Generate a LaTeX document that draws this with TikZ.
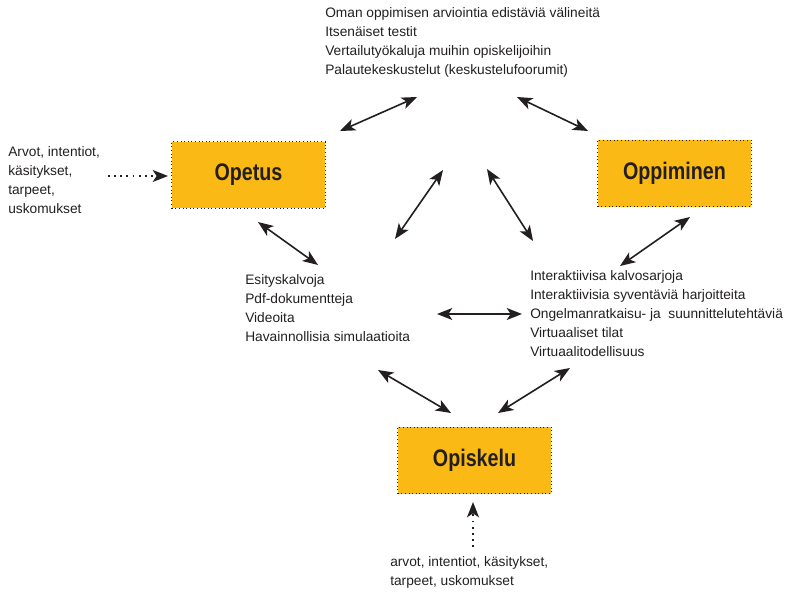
\documentclass[tikz,border=0pt]{standalone}
\usepackage{fontspec}
\setmainfont{Liberation Sans}
\newfontfamily\boxfont[FakeStretch=0.82]{Liberation Sans}
\usetikzlibrary{arrows.meta}
\definecolor{boxfill}{RGB}{251,185,21}
\definecolor{ink}{RGB}{35,31,32}
\tikzset{
  mainbox/.style={draw=ink, dotted, line width=0.7pt, fill=boxfill, minimum width=115pt, minimum height=50pt, inner sep=0pt,
    font=\boxfont\bfseries\fontsize{18}{20}\selectfont, text=ink},
  txt/.style={align=left, anchor=west, inner sep=0pt, text=ink, font=\fontsize{10.3}{14.25}\selectfont},
  tip/.tip={Stealth[length=11.5pt,width=9pt,inset=3pt]},
  dbl/.style={line width=1.2pt, draw=ink, tip-tip},
  dotarrow/.style={line width=1.4pt, draw=ink, dash pattern=on 1.4pt off 3.2pt, -tip}
}
\begin{document}
\begin{tikzpicture}[x=0.75pt,y=-0.75pt]
\useasboundingbox (0,0) rectangle (786,592);
% boxes
\node[mainbox] (opetus) at (248.5,175) {Opetus};
\node[mainbox] (oppiminen) at (674.5,173.5) {Oppiminen};
\node[mainbox] (opiskelu) at (474.5,460.5) {Opiskelu};
% texts
\node[txt] (top) at (325,42) {Oman oppimisen arviointia edistäviä välineitä\\Itsenäiset testit\\Vertailutyökaluja muihin opiskelijoihin\\Palautekeskustelut (keskustelufoorumit)};
\node[txt] (lefttxt) at (8,180.5) {Arvot, intentiot,\\käsitykset,\\tarpeet,\\uskomukset};
\node[txt] (midl) at (245,308.5) {Esityskalvoja\\Pdf-dokumentteja\\Videoita\\Havainnollisia simulaatioita};
\node[txt] (midr) at (530,313.5) {Interaktiivisa kalvosarjoja\\Interaktiivisia syventäviä harjoitteita\\Ongelmanratkaisu- ja\ \ suunnittelutehtäviä\\Virtuaaliset tilat\\Virtuaalitodellisuus};
\node[txt] (bottxt) at (390,572) {arvot, intentiot, käsitykset,\\tarpeet, uskomukset};
% arrow end points
\coordinate (a1s) at (340,131); \coordinate (a1e) at (417,97);
\coordinate (a2s) at (517,97); \coordinate (a2e) at (588,131);
\coordinate (a3s) at (258,222); \coordinate (a3e) at (318,265);
\coordinate (a4s) at (395,239); \coordinate (a4e) at (443,170);
\coordinate (a5s) at (487,169); \coordinate (a5e) at (533,241);
\coordinate (a6s) at (690,217); \coordinate (a6e) at (620,266);
\coordinate (a7s) at (437,314); \coordinate (a7e) at (522,314);
\coordinate (a8s) at (378,370); \coordinate (a8e) at (451,413);
\coordinate (a9s) at (498,413); \coordinate (a9e) at (570,368);
\coordinate (l1) at (108,176); \coordinate (l2) at (168,176);
\coordinate (b1) at (473,547); \coordinate (b2) at (473,502);
% arrows
\draw[dbl] (a1s) -- (a1e);
\draw[dbl] (a2s) -- (a2e);
\draw[dbl] (a3s) -- (a3e);
\draw[dbl] (a4s) -- (a4e);
\draw[dbl] (a5s) -- (a5e);
\draw[dbl] (a6s) -- (a6e);
\draw[dbl] (a7s) -- (a7e);
\draw[dbl] (a8s) -- (a8e);
\draw[dbl] (a9s) -- (a9e);
\draw[dotarrow] (l1) -- (l2);
\draw[dotarrow] (b1) -- (b2);
\end{tikzpicture}
\end{document}
